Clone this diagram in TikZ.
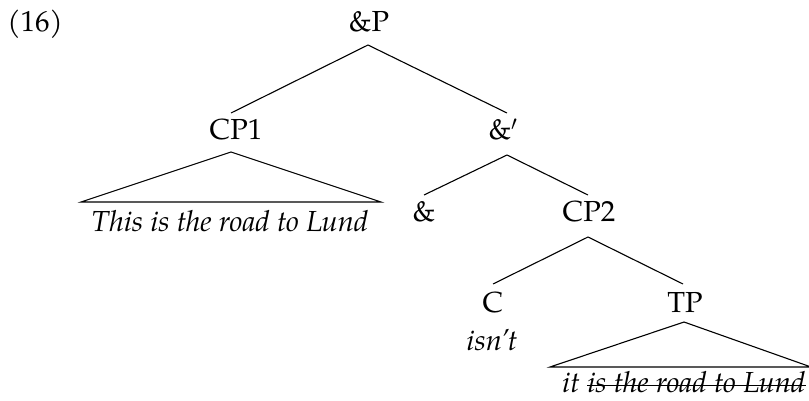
\documentclass[tikz,border=0pt]{standalone}
\usepackage{fontspec}
\setmainfont{TeX Gyre Pagella}
\begin{document}
\begin{tikzpicture}[x=1pt,y=-1pt,
  every node/.style={inner sep=0pt, anchor=base, font=\fontsize{29}{35}\selectfont},
  branch/.style={line width=1.1pt}]
\useasboundingbox (0,0) rectangle (809,401);
% labels
\node (ex)    at (35,32)   {(16)};
\node (aP)    at (369,32)  {\&P};
\node (cp1)   at (236,140) {CP1};
\node (abar)  at (503,140) {\&$'$};
\node (cp1t)  at (230,231) {\textit{This is the road to Lund}};
\node (amp)   at (424,222) {\&};
\node (cp2)   at (589,222) {CP2};
\node (c)     at (493,312) {C};
\node (isnt)  at (492,350) {\textit{isn’t}};
\node (tp)    at (685,312) {TP};
\node[anchor=base west] (tpit) at (562,392) {\textit{it}};
\node[anchor=base west] (tpdel) at ([xshift=7pt]tpit.base east) {\textit{is the road to Lund}};
% strike-out through the deleted words
\draw[branch] ([yshift=6.5pt]tpdel.base west) -- ([yshift=6.5pt]tpdel.base east);
% branch end points
\coordinate (aP-b)   at (368,45);
\coordinate (cp1-t)  at (231,113);
\coordinate (abar-t) at (507,113);
\coordinate (cp1-b)  at (231,152);
\coordinate (cp1-l)  at (81,202);
\coordinate (cp1-r)  at (381,202);
\coordinate (abar-b) at (507,155);
\coordinate (amp-t)  at (424,195);
\coordinate (cp2-t)  at (588,195);
\coordinate (cp2-b)  at (588,237);
\coordinate (c-t)    at (493,284);
\coordinate (tp-t)   at (683,284);
\coordinate (tp-b)   at (684,322);
\coordinate (tp-l)   at (550,367);
\coordinate (tp-r)   at (811,367);
% branches
\draw[branch] (cp1-t) -- (aP-b) -- (abar-t);
\draw[branch] (cp1-b) -- (cp1-l) -- (cp1-r) -- cycle;
\draw[branch] (amp-t) -- (abar-b) -- (cp2-t);
\draw[branch] (c-t) -- (cp2-b) -- (tp-t);
\draw[branch] (tp-b) -- (tp-l) -- (tp-r) -- cycle;
\end{tikzpicture}
\end{document}
